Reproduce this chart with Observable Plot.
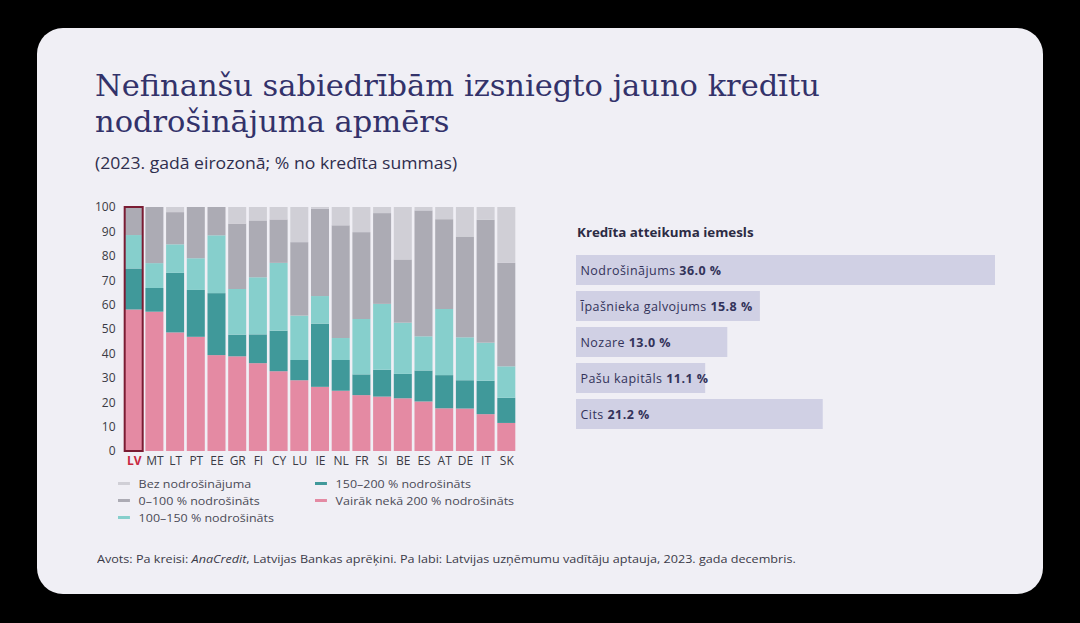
<!DOCTYPE html>
<html>
<head>
<meta charset="utf-8">
<script src="https://cdn.jsdelivr.net/npm/d3@7"></script>
<script src="https://cdn.jsdelivr.net/npm/@observablehq/plot@0.6"></script>
<style>
  html, body { margin: 0; padding: 0; background: #000; width: 1080px; height: 623px; overflow: hidden; }
  #card { position: absolute; left: 37px; top: 28px; width: 1006px; height: 566px; border-radius: 26px; background: #f0eff5; }
  .abs { position: absolute; transform-origin: 0 0; }
  #title { left: 95px; top: 68px; font-family: "DejaVu Serif", serif; font-size: 30.5px; line-height: 36px; color: #33326a; white-space: nowrap; }
  #subtitle { left: 95px; top: 152px; font-family: "Open Sans", sans-serif; font-size: 16px; color: #2f2e4e; white-space: nowrap; transform: scaleX(1.1); }
  #left { left: 90px; top: 195px; }
  #right { left: 565px; top: 240px; }
  #rtitle { left: 577px; top: 224px; font-family: "Open Sans", sans-serif; font-weight: 700; font-size: 12.5px; color: #2c2b44; white-space: nowrap; transform: scaleX(1.07); }
  .legcol { transform: scaleX(1.085); }
  .leg { font-family: "Open Sans", sans-serif; font-size: 11.5px; color: #4a4a55; white-space: nowrap; display: flex; align-items: center; height: 17px; }
  .sw { width: 11px; height: 3px; margin-right: 8px; }
  #source { left: 97px; top: 551px; font-family: "Open Sans", sans-serif; font-size: 11.5px; color: #3a3a48; white-space: nowrap; transform: scaleX(1.096); }
</style>
</head>
<body>
<div id="card"></div>
<div id="title" class="abs">Nefinanšu sabiedrībām izsniegto jauno kredītu<br>nodrošinājuma apmērs</div>
<div id="subtitle" class="abs">(2023. gadā eirozonā; % no kredīta summas)</div>
<div id="left" class="abs"></div>
<div id="legend1" class="abs legcol" style="left:118px; top:475px;"></div>
<div id="legend2" class="abs legcol" style="left:315px; top:475px;"></div>
<div id="rtitle" class="abs">Kredīta atteikuma iemesls</div>
<div id="right" class="abs"></div>
<div id="source" class="abs">Avots: Pa kreisi: <i>AnaCredit</i>, Latvijas Bankas aprēķini. Pa labi: Latvijas uzņēmumu vadītāju aptauja, 2023. gada decembris.</div>
<script>
// ---- Left chart data ----
const countries = ["LV","MT","LT","PT","EE","GR","FI","CY","LU","IE","NL","FR","SI","BE","ES","AT","DE","IT","SK"];
const seriesNames = ["Vairāk nekā 200 % nodrošināts","150–200 % nodrošināts","100–150 % nodrošināts","0–100 % nodrošināts","Bez nodrošinājuma"];
const over200   = [58.0,57.1,48.6,46.8,39.3,38.8,36.0,32.7,29.0,26.3,24.7,22.9,22.3,21.6,20.3,17.5,17.4,15.1,11.5];
const s150_200  = [16.8, 9.7,24.4,19.2,25.4, 8.9,11.8,16.6, 8.3,25.9,12.6, 8.5,11.0,10.0,12.7,13.6,11.6,13.7,10.3];
const s100_150  = [13.7,10.2,11.7,13.0,23.7,18.7,23.4,27.8,18.2,11.3, 9.0,22.7,27.0,21.0,14.0,27.1,17.6,15.6,12.9];
const s0_100    = [11.5,23.0,13.2,21.0,11.6,26.8,23.3,17.8,30.1,35.8,46.2,35.6,37.2,25.9,51.6,36.8,41.3,50.4,42.4];
const noCollat  = [ 0.0, 0.0, 2.1, 0.0, 0.0, 6.8, 5.5, 5.1,14.4, 0.7, 7.5,10.3, 2.5,21.5, 1.4, 5.0,12.1, 5.2,22.9];
const seriesColors = ["#e48aa3","#40999a","#86cfcc","#acabb4","#d0cfd6"];
const yTicks = [0,10,20,30,40,50,60,70,80,90,100];
const highlight = "LV";

// ---- Right chart data ----
const reasons = ["Nodrošinājums","Īpašnieka galvojums","Nozare","Pašu kapitāls","Cits"];
const reasonValues = [36.0, 15.8, 13.0, 11.1, 21.2];

// Build tidy table
const seriesValues = [over200, s150_200, s100_150, s0_100, noCollat];
const tidy = [];
countries.forEach((c, i) => {
  seriesNames.forEach((s, j) => tidy.push({country: c, series: s, value: seriesValues[j][i]}));
});
const totals = countries.map((c, i) => ({country: c, total: d3.sum(seriesValues, a => a[i])}));

const left = Plot.plot({
  width: 440, height: 280,
  marginLeft: 32, marginRight: 12, marginTop: 12, marginBottom: 24,
  style: {background: "transparent", fontFamily: "Open Sans, sans-serif", fontSize: "12px", color: "#3a3a44"},
  x: {domain: countries, padding: 0.13, round: false, label: null, tickSize: 0, tickPadding: 5},
  y: {domain: [0, 100], ticks: yTicks, label: null, tickSize: 0, tickPadding: 7},
  color: {domain: seriesNames, range: seriesColors},
  marks: [
    Plot.barY(tidy, {x: "country", y: "value", fill: "series", order: seriesNames}),
    Plot.barY(totals.filter(d => d.country === highlight), {x: "country", y: "total", fill: "none", stroke: "#7a1c33", strokeWidth: 2})
  ]
});
document.getElementById("left").appendChild(left);
d3.select(left).selectAll("g[aria-label='x-axis tick label'] text").each(function() {
  if (this.textContent === highlight) d3.select(this).attr("fill", "#c8283f").attr("font-weight", 700);
});

// Legend
const legendCols = [[4, 3, 2], [1, 0]];
legendCols.forEach((idx, k) => {
  const el = document.getElementById(k === 0 ? "legend1" : "legend2");
  idx.forEach(j => {
    const row = document.createElement("div");
    row.className = "leg";
    row.innerHTML = `<span class="sw" style="background:${seriesColors[j]}"></span>${seriesNames[j]}`;
    el.appendChild(row);
  });
});

// Right chart
const rdata = reasons.map((r, i) => ({reason: r, value: reasonValues[i]}));
const right = Plot.plot({
  width: 440, height: 200,
  marginLeft: 11, marginRight: 10, marginTop: 7, marginBottom: 3,
  style: {background: "transparent", fontFamily: "Open Sans, sans-serif", fontSize: "12.5px", letterSpacing: "0.45px"},
  x: {domain: [0, 36], axis: null},
  y: {domain: reasons, padding: 0.16, axis: null},
  marks: [
    Plot.barX(rdata, {x: "value", y: "reason", fill: "#d0d0e4"}),
    Plot.text(rdata, {x: 0, y: "reason", text: "reason", textAnchor: "start", dx: 4, fill: "#33335a"})
  ]
});
document.getElementById("right").appendChild(right);
d3.select(right).selectAll("g[aria-label='text'] text").each(function(_, i) {
  d3.select(this).append("tspan").attr("font-weight", 700).text(" " + reasonValues[i].toFixed(1) + " %");
});
</script>
</body>
</html>
